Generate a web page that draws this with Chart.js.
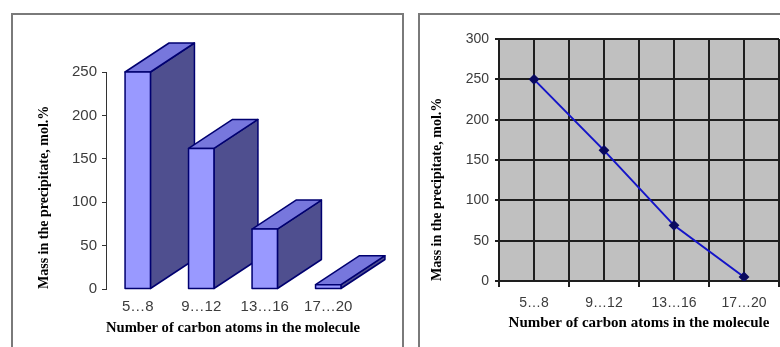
<!DOCTYPE html>
<html>
<head>
<meta charset="utf-8">
<script src="https://cdn.jsdelivr.net/npm/chart.js@4/dist/chart.umd.min.js"></script>
<style>
  html, body { margin:0; padding:0; background:#fff; width:780px; height:347px; overflow:hidden; }
  .panel { position:absolute; border:2px solid #7a7a7a; border-bottom:none; box-sizing:border-box; }
  #p1 { left:11px; top:13px; width:393px; height:340px; }
  #p2 { left:418px; top:13px; width:370px; height:340px; }
  #c1 { position:absolute; left:0; top:0; }
  #c2 { position:absolute; left:420px; top:0; }
</style>
</head>
<body>
<div class="panel" id="p1"></div>
<div class="panel" id="p2"></div>
<canvas id="c1" width="405" height="347"></canvas>
<canvas id="c2" width="367" height="347"></canvas>
<script>
// ---- data ----
const categories = ['5…8', '9…12', '13…16', '17…20'];
const massValues = [250, 162, 69, 5];
const yTitle = 'Mass in the precipitate, mol.%';
const xTitle = 'Number of carbon atoms in the molecule';

const tickFontL = { family: "'Liberation Sans', Arial, sans-serif", size: 15 };
const tickFontR = { family: "'Liberation Sans', Arial, sans-serif", size: 14 };
const xTitleFont = { family: "'Liberation Serif', 'Times New Roman', serif", size: 15, weight: 'bold' };
const yTitleFont = { family: "'Liberation Serif', 'Times New Roman', serif", size: 14, weight: 'bold' };
const tickColor = '#3c3c3c';

// ---- plugins ----
const bar3d = {
  id: 'bar3d',
  afterDatasetsDraw(chart, args, opts) {
    const ctx = chart.ctx;
    const meta = chart.getDatasetMeta(0);
    const dx = opts.dx, dy = opts.dy;
    meta.data.forEach(bar => {
      const p = bar.getProps(['x', 'y', 'base', 'width'], true);
      const l = p.x - p.width / 2, r = p.x + p.width / 2, t = p.y, b = p.base;
      ctx.save();
      ctx.lineJoin = 'round';
      ctx.strokeStyle = opts.edge;
      ctx.lineWidth = 1.5;
      // side face
      ctx.beginPath();
      ctx.moveTo(r, b); ctx.lineTo(r + dx, b + dy); ctx.lineTo(r + dx, t + dy); ctx.lineTo(r, t); ctx.closePath();
      ctx.fillStyle = opts.side; ctx.fill(); ctx.stroke();
      // top face
      ctx.beginPath();
      ctx.moveTo(l, t); ctx.lineTo(l + dx, t + dy); ctx.lineTo(r + dx, t + dy); ctx.lineTo(r, t); ctx.closePath();
      ctx.fillStyle = opts.top; ctx.fill(); ctx.stroke();
      // front face
      ctx.beginPath();
      ctx.rect(l, t, r - l, b - t);
      ctx.fillStyle = opts.front; ctx.fill(); ctx.stroke();
      ctx.restore();
    });
  }
};

const plotBg = {
  id: 'plotBg',
  beforeDraw(chart, args, opts) {
    const { left, top, right, bottom } = chart.chartArea;
    const ctx = chart.ctx;
    ctx.save();
    ctx.fillStyle = opts.color;
    ctx.fillRect(left, top, right - left, bottom - top);
    ctx.restore();
  }
};

// ---- left chart: 3D bars ----
new Chart(document.getElementById('c1'), {
  type: 'bar',
  data: {
    labels: categories,
    datasets: [{
      data: massValues,
      backgroundColor: '#9999ff',
      borderColor: '#000080',
      borderWidth: 1,
      categoryPercentage: 1,
      barPercentage: 0.4
    }]
  },
  plugins: [bar3d],
  options: {
    responsive: false,
    animation: false,
    layout: { padding: { left: 0, right: 45, top: 72, bottom: 0 } },
    plugins: {
      legend: { display: false },
      tooltip: { enabled: false },
      bar3d: { dx: 44, dy: -29, front: '#9999ff', side: '#4f4f8f', top: '#7777dd', edge: '#000070' }
    },
    scales: {
      x: {
        afterFit(s) { s.height = 58; },
        grid: { display: false, drawTicks: false },
        border: { display: false },
        ticks: { font: tickFontL, color: tickColor, padding: 9, maxRotation: 0, autoSkip: false },
        title: { display: true, text: xTitle, font: xTitleFont, color: '#000', padding: { top: 0, bottom: 10 } }
      },
      y: {
        min: 0, max: 250,
        afterFit(s) { s.width = 106; },
        ticks: { stepSize: 50, font: tickFontL, color: tickColor, padding: 5 },
        grid: { drawOnChartArea: false, drawTicks: true, tickLength: 4, color: '#333' },
        border: { display: true, color: '#333', width: 1 },
        title: { display: true, align: 'start', text: yTitle, font: yTitleFont, color: '#000', padding: { top: 36, bottom: 0 } }
      }
    }
  }
});

// ---- right chart: line on grey grid ----
new Chart(document.getElementById('c2'), {
  type: 'line',
  data: {
    datasets: [{
      data: categories.map((c, i) => ({ x: i, y: massValues[i] })),
      borderColor: '#1414c8',
      borderWidth: 2,
      pointStyle: 'rectRot',
      pointRadius: 4,
      pointBackgroundColor: '#0a0a60',
      pointBorderColor: '#0a0a60',
      tension: 0
    }]
  },
  plugins: [plotBg],
  options: {
    responsive: false,
    animation: false,
    layout: { padding: { left: 0, right: 0, top: 39, bottom: 0 } },
    plugins: {
      legend: { display: false },
      tooltip: { enabled: false },
      plotBg: { color: '#c0c0c0' }
    },
    scales: {
      x: {
        type: 'linear',
        min: -0.5, max: 3.5,
        afterFit(s) { s.height = 66; },
        afterBuildTicks(s) {
          s.ticks = [];
          for (let v = -0.5; v <= 3.5; v += 0.5) s.ticks.push({ value: v });
        },
        grid: {
          color: '#1e1e1e', lineWidth: 2, tickLength: 6,
          tickColor: ctx => (Number.isInteger(ctx.tick && ctx.tick.value) ? 'rgba(0,0,0,0)' : '#1e1e1e')
        },
        border: { display: true, color: '#1e1e1e', width: 2 },
        ticks: {
          font: tickFontR, color: tickColor, padding: 8, maxRotation: 0, autoSkip: false,
          callback: v => (Number.isInteger(v) ? categories[v] : '')
        },
        title: { display: true, text: xTitle, font: xTitleFont, color: '#000', padding: { top: 0, bottom: 15 } }
      },
      y: {
        min: 0, max: 300,
        afterFit(s) { s.width = 79; },
        ticks: { stepSize: 50, font: tickFontR, color: tickColor, padding: 6 },
        grid: { color: '#1e1e1e', lineWidth: 2, tickLength: 4 },
        border: { display: true, color: '#1e1e1e', width: 2 },
        title: { display: true, align: 'start', text: yTitle, font: yTitleFont, color: '#000', padding: { top: 9, bottom: 0 } }
      }
    }
  }
});
</script>
</body>
</html>
